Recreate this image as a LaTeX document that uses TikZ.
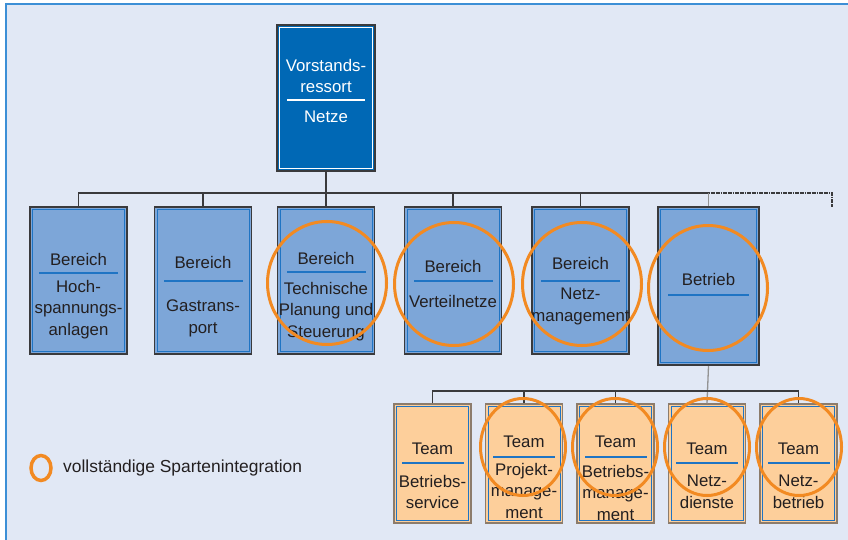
\documentclass[tikz,border=0pt]{standalone}
\usepackage{fontspec}
\setmainfont{Liberation Sans}
\usetikzlibrary{positioning}
\definecolor{bgblue}{HTML}{E1E8F5}
\definecolor{frameblue}{HTML}{3C8FD6}
\definecolor{topblue}{HTML}{0068B5}
\definecolor{areablue}{HTML}{7DA6D8}
\definecolor{teampeach}{HTML}{FDCF9B}
\definecolor{ruleblue}{HTML}{1F74C4}
\definecolor{ringorange}{HTML}{F28A22}
\definecolor{edgegray}{HTML}{3A3A3C}
\definecolor{peachedge}{HTML}{8C7C6C}
\definecolor{txtdark}{HTML}{231F20}
\tikzset{%
    inframe/.style={%
        path picture={\draw[#1,line width=0.8pt]
            ([shift={(2.5pt,-2.5pt)}]path picture bounding box.north west) rectangle
            ([shift={(-2.5pt,2.5pt)}]path picture bounding box.south east);}
    },
    orgbox/.style={draw=edgegray, line width=1.3pt, inner sep=0pt},
    vrbox/.style={orgbox, fill=topblue, inframe=white, minimum width=98pt, minimum height=146pt},
    areabox/.style={orgbox, fill=areablue, inframe=ruleblue, minimum width=97pt, minimum height=147pt},
    teambox/.style={orgbox, draw=peachedge, fill=teampeach, inframe=ruleblue, minimum width=77pt, minimum height=119pt},
    seprule/.style={fill=ruleblue, minimum width=#1, minimum height=1.1pt, inner sep=0pt},
    uptxt/.style={font=\fontsize{16.8}{21.5}\selectfont, text=txtdark, align=center, inner xsep=0pt, inner ysep=2.5pt, text depth=4pt},
    lowtxt/.style={font=\fontsize{16.8}{21.5}\selectfont, text=txtdark, align=center, inner xsep=0pt, inner ysep=5pt},
    legtxt/.style={font=\fontsize{17.4}{20}\selectfont, text=txtdark, inner sep=0pt},
    conn/.style={draw=edgegray, line width=1.3pt},
    connlight/.style={draw=gray!85, line width=1.3pt},
    openend/.style={draw=edgegray, line width=2.6pt, dash pattern=on 1.8pt off 0.6pt},
    ring/.style={draw=ringorange, line width=3pt}
}
\begin{document}
\begin{tikzpicture}[x=1pt,y=-1pt]
\useasboundingbox (0,0) rectangle (848,540);
\fill[bgblue] (5,3) rectangle (848,540);
\draw[frameblue, line width=2pt] (6,540) -- (6,4) -- (848,4);

% Vorstandsressort
\node[vrbox] (vr) at (326,98) {};
\node[seprule=78pt, fill=white] (vr-r) at (326,100) {};
\node[uptxt, text=white, above=0pt of vr-r] (vr-t) {Vorstands-\\ressort};
\node[lowtxt, text=white, below=5pt of vr-r] (vr-b) {Netze};

% Bereiche
\node[areabox] (b1) at (78.5,280.5) {};
\node[seprule=79pt] (b1-r) at (78.5,273) {};
\node[uptxt, above=0pt of b1-r] (b1-t) {Bereich};
\node[lowtxt, below=1pt of b1-r] (b1-b) {Hoch-\\spannungs-\\anlagen};

\node[areabox] (b2) at (203,280.5) {};
\node[seprule=79pt] (b2-r) at (203,281) {};
\node[uptxt, above=5pt of b2-r] (b2-t) {Bereich};
\node[lowtxt, below=13pt of b2-r] (b2-b) {Gastrans-\\port};

\node[areabox] (b3) at (326,280.5) {};
\node[seprule=79pt] (b3-r) at (326,272) {};
\node[uptxt, above=0pt of b3-r] (b3-t) {Bereich};
\node[lowtxt, below=4pt of b3-r] (b3-b) {Technische\\Planung und\\Steuerung};

\node[areabox] (b4) at (453,280.5) {};
\node[seprule=79pt] (b4-r) at (453,281) {};
\node[uptxt, above=1pt of b4-r] (b4-t) {Bereich};
\node[lowtxt, below=8pt of b4-r] (b4-b) {Verteilnetze};

\node[areabox] (b5) at (580.5,280.5) {};
\node[seprule=79pt] (b5-r) at (580.5,281) {};
\node[uptxt, above=4pt of b5-r] (b5-t) {Bereich};
\node[lowtxt, below=1pt of b5-r] (b5-b) {Netz-\\management};

\node[areabox, line width=2.2pt, minimum width=101pt, minimum height=158pt] (b6) at (708.5,286) {};
\node[seprule=81pt] (b6-r) at (708.5,295) {};
\node[uptxt, above=2pt of b6-r] (b6-t) {Betrieb};

% Teams
\node[teambox] (t1) at (432.5,463.5) {};
\node[seprule=62pt] (t1-r) at (432.5,463) {};
\node[uptxt, above=1pt of t1-r] (t1-t) {Team};
\node[lowtxt, below=6pt of t1-r] (t1-b) {Betriebs-\\service};

\node[teambox] (t2) at (524,463.5) {};
\node[seprule=62pt] (t2-r) at (524,457) {};
\node[uptxt, above=2pt of t2-r] (t2-t) {Team};
\node[lowtxt, below=0pt of t2-r] (t2-b) {Projekt-\\manage-\\ment};

\node[teambox] (t3) at (615.5,463.5) {};
\node[seprule=62pt] (t3-r) at (615.5,457) {};
\node[uptxt, above=2pt of t3-r] (t3-t) {Team};
\node[lowtxt, below=2pt of t3-r] (t3-b) {Betriebs-\\manage-\\ment};

\node[teambox] (t4) at (707,463.5) {};
\node[seprule=62pt] (t4-r) at (707,463) {};
\node[uptxt, above=1pt of t4-r] (t4-t) {Team};
\node[lowtxt, below=6pt of t4-r] (t4-b) {Netz-\\dienste};

\node[teambox] (t5) at (798.5,463.5) {};
\node[seprule=62pt] (t5-r) at (798.5,463) {};
\node[uptxt, above=1pt of t5-r] (t5-t) {Team};
\node[lowtxt, below=6pt of t5-r] (t5-b) {Netz-\\betrieb};

% busses
\coordinate (busA) at (0,193);
\coordinate (busB) at (0,391);
\coordinate (open) at (832,207);

% Netze to Bereiche
\draw[conn] (vr.south) -- (vr.south |- busA);
\draw[conn] (b1.north) -- (b1.north |- busA) -- (b6.north |- busA);
\draw[conn] (b2.north) -- (b2.north |- busA);
\draw[conn] (b3.north) -- (b3.north |- busA);
\draw[conn] (b4.north) -- (b4.north |- busA);
\draw[conn] (b5.north) -- (b5.north |- busA);
\draw[connlight] (b6.north) -- (b6.north |- busA);
\draw[openend] (b6.north |- busA) -- (open |- busA) -- (open);

% Betrieb to Teams
\draw[connlight] (b6.south) -- (t4.north);
\draw[conn] (t1.north) -- (t1.north |- busB) -- (t5.north |- busB) -- (t5.north);
\draw[conn] (t2.north) -- (t2.north |- busB);
\draw[conn] (t3.north) -- (t3.north |- busB);

% Sparten rings
\draw[ring] ([shift={(1pt,-2.5pt)}]b3.center) ellipse [x radius=59.5pt, y radius=61.5pt];
\draw[ring] ([shift={(1pt,-3.5pt)}]b4.center) ellipse [x radius=59.5pt, y radius=61.5pt];
\draw[ring] ([shift={(1.5pt,-3.5pt)}]b5.center) ellipse [x radius=59.5pt, y radius=61.5pt];
\draw[ring] ([shift={(-0.5pt,-2pt)}]b6.center) ellipse [x radius=59.5pt, y radius=62.5pt];
\draw[ring] ([shift={(-1pt,16.5pt)}]t2.center) ellipse [x radius=42.5pt, y radius=48.5pt];
\draw[ring] ([shift={(-0.5pt,16.5pt)}]t3.center) ellipse [x radius=42.5pt, y radius=48.5pt];
\draw[ring] ([shift={(0pt,16.5pt)}]t4.center) ellipse [x radius=42.5pt, y radius=48.5pt];
\draw[ring] ([shift={(0.5pt,16.5pt)}]t5.center) ellipse [x radius=42.5pt, y radius=48.5pt];

% legend
\coordinate (legring) at (41,468);
\draw[ring, line width=3.5pt] (legring) ellipse [x radius=10pt, y radius=12.5pt];
\node[legtxt, right=22pt of legring] (legend) {vollständige Spartenintegration};
\end{tikzpicture}
\end{document}
